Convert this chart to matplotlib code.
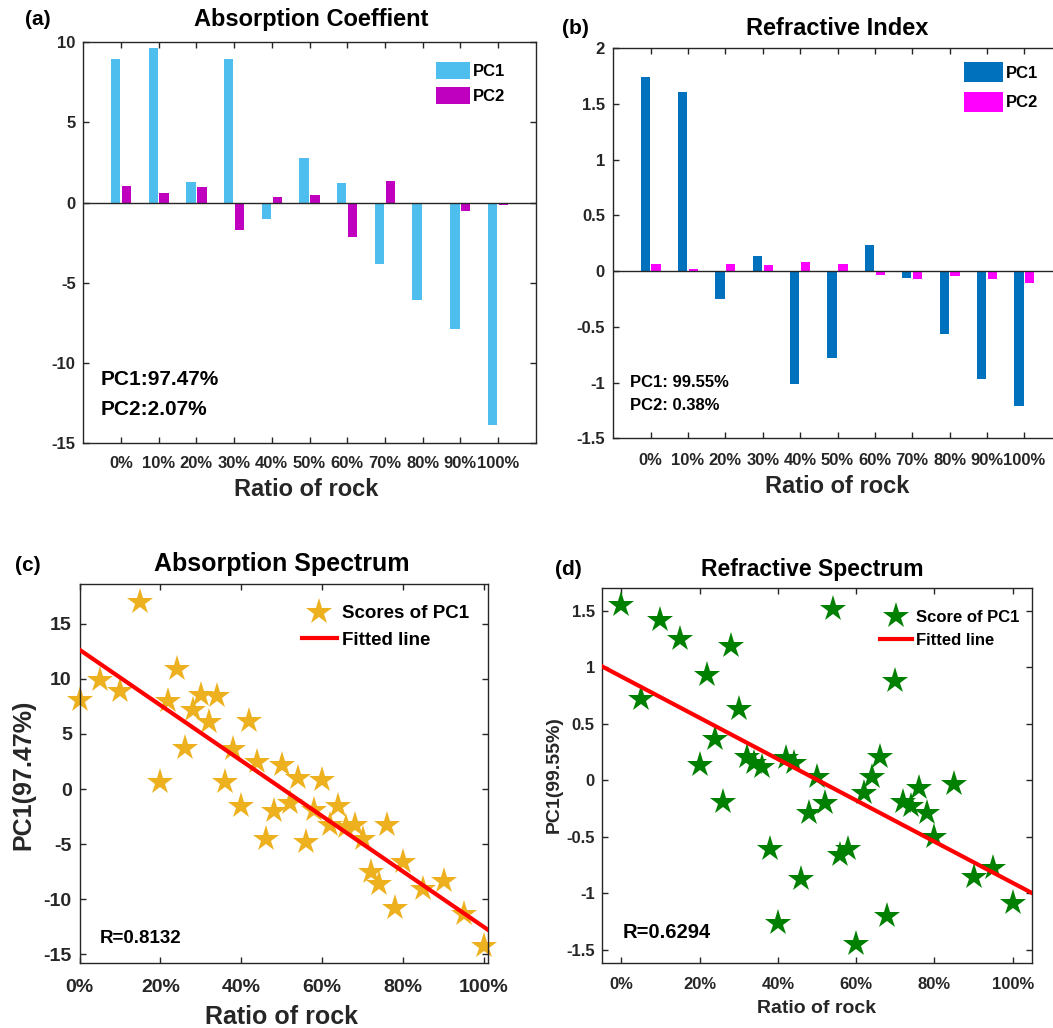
import numpy as np
import matplotlib
matplotlib.use("Agg")
import matplotlib.pyplot as plt

plt.rcParams.update({
    "font.family": ["Liberation Sans", "DejaVu Sans"],
    "font.weight": "bold",
    "axes.unicode_minus": False,
    "axes.linewidth": 1.0,
    "axes.edgecolor": "#262626",
    "xtick.direction": "in",
    "ytick.direction": "in",
    "xtick.top": True,
    "ytick.right": True,
    "xtick.color": "#262626",
    "ytick.color": "#262626",
})

# ---- bar charts: PCA loadings per rock ratio ----
ratio_labels = ["0%", "10%", "20%", "30%", "40%", "50%", "60%", "70%", "80%", "90%", "100%"]
abs_pc1 = [8.94, 9.63, 1.25, 8.94, -1.00, 2.75, 1.21, -3.81, -6.10, -7.88, -13.85]
abs_pc2 = [1.06, 0.57, 0.94, -1.69, 0.33, 0.44, -2.17, 1.33, -0.03, -0.54, -0.15]
ref_pc1 = [1.745, 1.604, -0.246, 0.132, -1.013, -0.780, 0.237, -0.060, -0.561, -0.966, -1.214]
ref_pc2 = [0.060, 0.021, 0.066, 0.057, 0.081, 0.063, -0.033, -0.069, -0.042, -0.066, -0.105]

abs_yticks = [-15, -10, -5, 0, 5, 10]
abs_ytick_labels = ["-15", "-10", "-5", "0", "5", "10"]
ref_yticks = [-1.5, -1, -0.5, 0, 0.5, 1, 1.5, 2]
ref_ytick_labels = ["-1.5", "-1", "-0.5", "0", "0.5", "1", "1.5", "2"]

# ---- scatter charts: PC1 scores vs rock ratio (%) ----
sample_ratio = [0, 5, 10, 15, 20, 22, 24, 26, 28, 30, 32, 34, 36, 38, 40, 42, 44, 46, 48, 50,
                52, 54, 56, 58, 60, 62, 64, 66, 68, 70, 72, 74, 76, 78, 80, 85, 90, 95, 100]
abs_scores = [8.1, 9.9, 8.9, 17.0, 0.6, 8.0, 10.9, 3.7, 7.2, 8.5, 6.1, 8.4, 0.6, 3.6, -1.5,
              6.2, 2.5, -4.5, -2.0, 2.2, -1.3, 1.0, -4.8, -1.9, 0.8, -3.3, -1.5, -3.4, -3.3,
              -4.5, -7.5, -8.6, -3.3, -10.8, -6.6, -9.1, -8.3, -11.3, -14.2]
ref_scores = [1.55, 0.72, 1.42, 1.25, 0.14, 0.93, 0.37, -0.19, 1.19, 0.63, 0.21, 0.15, 0.12,
              -0.61, -1.26, 0.20, 0.15, -0.87, -0.29, 0.03, -0.20, 1.52, -0.66, -0.61, -1.45,
              -0.11, 0.03, 0.21, -1.20, 0.88, -0.19, -0.23, -0.07, -0.29, -0.50, -0.03, -0.86,
              -0.78, -1.09]

pct_ticks = [0, 0.2, 0.4, 0.6, 0.8, 1.0]
pct_tick_labels = ["0%", "20%", "40%", "60%", "80%", "100%"]
abs_score_yticks = [-15, -10, -5, 0, 5, 10, 15]
abs_score_ytick_labels = ["-15", "-10", "-5", "0", "5", "10", "15"]
ref_score_yticks = [-1.5, -1, -0.5, 0, 0.5, 1, 1.5]
ref_score_ytick_labels = ["-1.5", "-1", "-0.5", "0", "0.5", "1", "1.5"]

W, H = 1053, 1028
fig = plt.figure(figsize=(W / 100, H / 100), dpi=100)


def px_rect(left, top, right, bottom):
    return [left / W, 1 - bottom / H, (right - left) / W, (bottom - top) / H]


LABEL_GRAY = "#262626"


def bar_panel(rect, pc1, pc2, c1, c2, ylim, yticks, yticklabels, title, letter,
              letter_pos, title_pos, xlabel_pos, notes, note_pos, note_size,
              leg_anchor, leg_kw, xpad, ypad):
    ax = fig.add_axes(rect)
    idx = np.arange(len(ratio_labels))
    ax.bar(idx - 0.145, pc1, 0.25, color=c1, label="PC1", zorder=2)
    ax.bar(idx + 0.145, pc2, 0.25, color=c2, label="PC2", zorder=2)
    ax.axhline(0, color=LABEL_GRAY, lw=1.0, zorder=3)
    ax.set_xlim(-1, 11)
    ax.set_ylim(*ylim)
    ax.set_xticks(idx)
    ax.set_xticklabels(ratio_labels)
    ax.set_yticks(yticks)
    ax.set_yticklabels(yticklabels)
    ax.tick_params(axis="both", labelsize=12, length=4.5, width=1.0)
    ax.tick_params(axis="x", pad=xpad)
    ax.tick_params(axis="y", pad=ypad)
    ax.text(*title_pos, title, transform=ax.transAxes, ha="center", va="center",
            fontsize=17, fontweight="bold")
    ax.text(*letter_pos, letter, transform=ax.transAxes, ha="left", va="center",
            fontsize=15, fontweight="bold")
    ax.text(*xlabel_pos, "Ratio of rock", transform=ax.transAxes, ha="center",
            va="center", fontsize=17, fontweight="bold", color=LABEL_GRAY)
    for txt, pos in zip(notes, note_pos):
        ax.text(*pos, txt, transform=ax.transAxes, ha="left", va="center",
                fontsize=note_size, fontweight="bold")
    ax.legend(loc="upper left", bbox_to_anchor=leg_anchor, frameon=False,
              borderpad=0, borderaxespad=0, prop=dict(size=12, weight="bold"),
              **leg_kw)
    return ax


# (a) absorption coefficient loadings
bar_panel(px_rect(83.3, 42.0, 535.7, 443.3), abs_pc1, abs_pc2, "#4DBEEE", "#BF00BF",
          (-15, 10), abs_yticks, abs_ytick_labels, "Absorption Coeffient", "(a)",
          (-0.129, 1.055), (0.504, 1.055), (0.492, -0.116),
          ["PC1:97.47%", "PC2:2.07%"], [(0.039, 0.158), (0.039, 0.083)], 15,
          (0.779, 0.951),
          dict(handlelength=2.04, handleheight=1.2, handletextpad=0.18, labelspacing=0.5),
          9.5, 5.5)

# (b) refractive index loadings
bar_panel(px_rect(613.3, 48.3, 1061.7, 438.3), ref_pc1, ref_pc2, "#0072BD", "#FF00FF",
          (-1.5, 2), ref_yticks, ref_ytick_labels, "Refractive Index", "(b)",
          (-0.115, 1.051), (0.5, 1.051), (0.499, -0.124),
          ["PC1: 99.55%", "PC2: 0.38%"], [(0.037, 0.143), (0.037, 0.083)], 12,
          (0.781, 0.964),
          dict(handlelength=2.34, handleheight=1.44, handletextpad=0.2, labelspacing=0.6),
          10.5, 6.0)


def score_panel(rect, scores, color, xlim, ylim, yticks, yticklabels, title, letter,
                ylabel, legend_label, r_text, tick_size, label_size, title_size,
                letter_pos, title_pos, xlabel_pos, ylabel_pos, r_pos, r_size,
                leg_anchor, leg_size, leg_kw, xpad, ypad):
    ax = fig.add_axes(rect)
    x = np.array(sample_ratio) / 100.0
    y = np.array(scores)
    ax.plot(x, y, linestyle="none", marker="*", ms=20, color=color, mew=0,
            label=legend_label, zorder=2, clip_on=False)
    slope, intercept = np.polyfit(x, y, 1)
    xf = np.array([max(xlim[0], -0.05), xlim[1]])
    ax.plot(xf, intercept + slope * xf, color="#FF0000", lw=3, label="Fitted line",
            zorder=3)
    ax.set_xlim(*xlim)
    ax.set_ylim(*ylim)
    ax.set_xticks(pct_ticks)
    ax.set_xticklabels(pct_tick_labels)
    ax.set_yticks(yticks)
    ax.set_yticklabels(yticklabels)
    ax.tick_params(axis="both", labelsize=tick_size, length=4.5, width=1.0)
    ax.tick_params(axis="x", pad=xpad)
    ax.tick_params(axis="y", pad=ypad)
    ax.text(*title_pos, title, transform=ax.transAxes, ha="center", va="center",
            fontsize=title_size, fontweight="bold")
    ax.text(*letter_pos, letter, transform=ax.transAxes, ha="left", va="center",
            fontsize=15, fontweight="bold")
    ax.text(*xlabel_pos, "Ratio of rock", transform=ax.transAxes, ha="center",
            va="center", fontsize=label_size[0], fontweight="bold", color=LABEL_GRAY)
    ax.text(*ylabel_pos, ylabel, transform=ax.transAxes, ha="center", va="center",
            rotation=90, fontsize=label_size[1], fontweight="bold", color=LABEL_GRAY)
    ax.text(*r_pos, r_text, transform=ax.transAxes, ha="left", va="center",
            fontsize=r_size, fontweight="bold")
    ax.legend(loc="upper left", bbox_to_anchor=leg_anchor, frameon=False,
              borderpad=0, borderaxespad=0, numpoints=1,
              prop=dict(size=leg_size, weight="bold"), **leg_kw)
    return ax


# (c) absorption spectrum PC1 scores
score_panel(px_rect(79.5, 584.0, 488.0, 963.3), abs_scores, "#EDB120",
            (0, 1.01), (-15.8, 18.6), abs_score_yticks, abs_score_ytick_labels,
            "Absorption Spectrum", "(c)", "PC1(97.47%)", "Scores of PC1", "R=0.8132",
            14, (18, 18), 18,
            (-0.158, 1.05), (0.495, 1.053), (0.495, -0.141), (-0.138, 0.496),
            (0.05, 0.066), 13.5,
            (0.544, 0.944), 13.5,
            dict(handlelength=1.87, handletextpad=0.27, labelspacing=0.5),
            11.0, 5.5)

# (d) refractive spectrum PC1 scores
score_panel(px_rect(601.7, 588.3, 1032.3, 963.3), ref_scores, "#008000",
            (-0.05, 1.05), (-1.62, 1.70), ref_score_yticks, ref_score_ytick_labels,
            "Refractive Spectrum", "(d)", "PC1(99.55%)", "Score of PC1", "R=0.6294",
            12, (14, 14), 16.5,
            (-0.108, 1.049), (0.488, 1.049), (0.498, -0.12), (-0.111, 0.502),
            (0.049, 0.083), 14.5,
            (0.646, 0.942), 12,
            dict(handlelength=1.9, handletextpad=0.24, labelspacing=0.45),
            10.0, 5.0)

fig.savefig("out.png", dpi=100, facecolor="white")
